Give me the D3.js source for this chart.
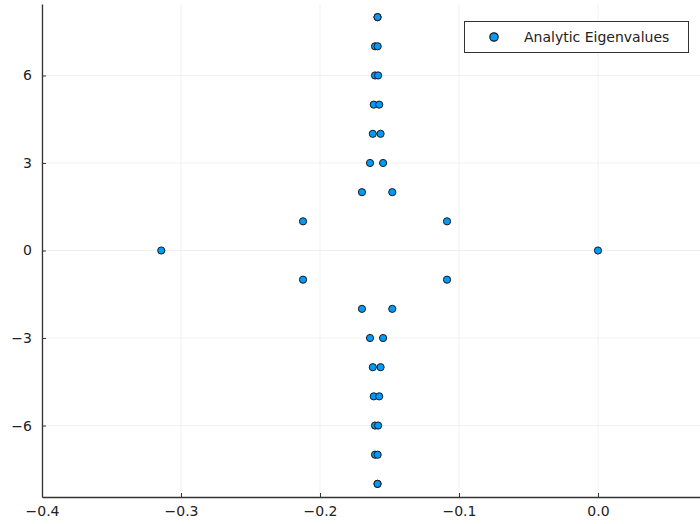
<!DOCTYPE html>
<html>
<head>
<meta charset="utf-8">
<script src="https://cdn.jsdelivr.net/npm/d3@7"></script>
<style>
  html, body { margin: 0; padding: 0; background: #fff; }
  svg { display: block; }
  text { font-family: "DejaVu Sans", sans-serif; }
</style>
</head>
<body>
<svg id="chart" width="700" height="524"></svg>
<script>
// Data: eigenvalues (real part, imaginary part)
const posImag = [8, 8, 7, 7, 6, 6, 5, 5, 4, 4, 3, 3, 2, 2, 1, 1];
const posReal = [-0.1586, -0.1586, -0.1604, -0.1585, -0.1604, -0.1582, -0.1613, -0.1574, -0.1620, -0.1564, -0.1640, -0.1546, -0.1698, -0.1480, -0.2122, -0.1086];
const zeroReal = [-0.3142, 0.0];
const xTicks = [-0.4, -0.3, -0.2, -0.1, 0.0];
const yTicks = [-6, -3, 0, 3, 6];
const seriesName = "Analytic Eigenvalues";

const points = [];
posReal.forEach((r, i) => { points.push({x: r, y: posImag[i]}); points.push({x: r, y: -posImag[i]}); });
zeroReal.forEach(r => points.push({x: r, y: 0}));

const svg = d3.select("#chart");
const mLeft = 42, mRight = 700, mTop = 4, mBottom = 497;

const x = d3.scaleLinear().domain([-0.4, 0.0734]).range([mLeft, mRight]);
const y = d3.scaleLinear().domain([-8.45, 8.45]).range([mBottom, mTop]);

const fmtX = d => (d < 0 ? "\u2212" : "") + Math.abs(d).toFixed(1);
const fmtY = d => (d < 0 ? "\u2212" : "") + Math.abs(d);

// grid
svg.append("g").selectAll("line").data(xTicks).join("line")
  .attr("x1", d => x(d)).attr("x2", d => x(d)).attr("y1", mTop).attr("y2", mBottom)
  .attr("stroke", "#000").attr("stroke-opacity", 0.1).attr("stroke-width", 0.6);
svg.append("g").selectAll("line").data(yTicks).join("line")
  .attr("x1", mLeft).attr("x2", mRight).attr("y1", d => y(d)).attr("y2", d => y(d))
  .attr("stroke", "#000").attr("stroke-opacity", 0.1).attr("stroke-width", 0.6);

// axes
const xAxis = d3.axisBottom(x).tickValues(xTicks).tickFormat(fmtX).tickSizeInner(-4).tickSizeOuter(0).tickPadding(9);
const gx = svg.append("g").attr("transform", `translate(0,${mBottom})`).call(xAxis);
const yAxis = d3.axisLeft(y).tickValues(yTicks).tickFormat(fmtY).tickSizeInner(-4).tickSizeOuter(0).tickPadding(10);
const gy = svg.append("g").attr("transform", `translate(${mLeft},0)`).call(yAxis);
[gx, gy].forEach(g => {
  g.select(".domain").attr("stroke", "#333").attr("stroke-width", 1.3);
  g.selectAll(".tick line").attr("stroke", "#333").attr("stroke-width", 1);
  g.selectAll(".tick text").attr("font-size", 14).attr("fill", "#222").attr("font-family", "DejaVu Sans, sans-serif");
});

// points
svg.append("g").selectAll("circle").data(points).join("circle")
  .attr("cx", d => x(d.x)).attr("cy", d => y(d.y)).attr("r", 3.6)
  .attr("fill", "#009AFA").attr("stroke", "#1a1a1a").attr("stroke-width", 1);

// legend
const lg = svg.append("g");
lg.append("rect").attr("x", 464.5).attr("y", 21.5).attr("width", 224).attr("height", 31)
  .attr("fill", "#fff").attr("stroke", "#333").attr("stroke-width", 1);
lg.append("circle").attr("cx", 494).attr("cy", 37).attr("r", 4.2)
  .attr("fill", "#009AFA").attr("stroke", "#1a1a1a").attr("stroke-width", 1.2);
lg.append("text").attr("x", 524).attr("y", 42).attr("font-size", 14).attr("fill", "#222").text(seriesName);
</script>
</body>
</html>
